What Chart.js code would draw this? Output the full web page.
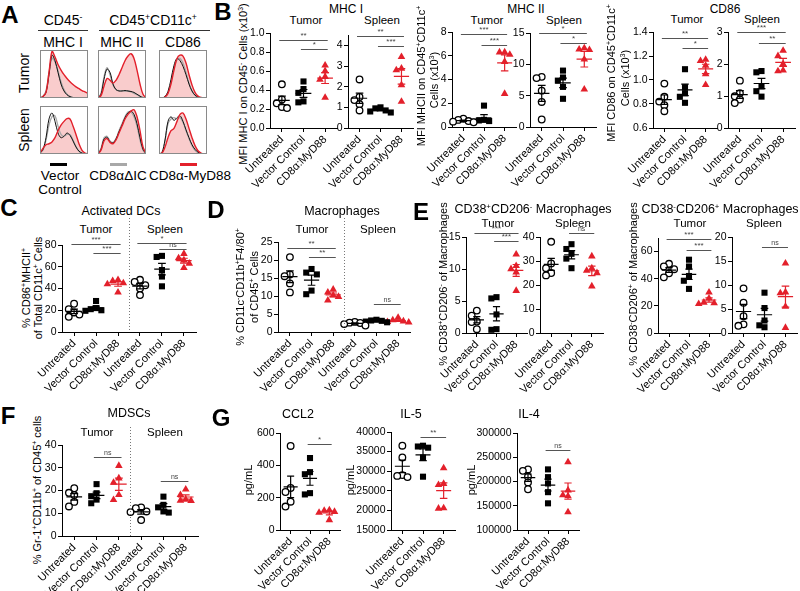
<!DOCTYPE html>
<html lang="en">
<head>
<meta charset="UTF-8">
<title>Myeloid cell activation</title>
<script src="https://cdn.jsdelivr.net/npm/chart.js"></script>
<style>
    body { margin: 0; background: #fff; font-family: 'Liberation Sans', Arial, Helvetica, sans-serif; }
    #fig { position: relative; width: 800px; height: 591px; overflow: hidden; background: #fff; }
    canvas { position: absolute; }
    .t { position: absolute; white-space: nowrap; font-size: 11px; color: #000; line-height: 1;
         transform: translate(-50%, -50%); }
    .rot { transform: translate(-50%, -50%) rotate(-90deg); }
    .bar { position: absolute; height: 3px; }
    .rule { position: absolute; height: 1px; background: #333; }
    sup { font-size: 0.62em; vertical-align: 0.55em; line-height: 0; }
</style>
</head>
<body>
<div id="fig"></div>

<script>
    // ---------- data ----------
    const groups = ['Untreated', 'Vector Control', 'CD8\u03b1:MyD88'];

    // A: histograms, rows = CD8a-MyD88 (red), vector control (black), CD8aDIC (grey)
    const histTumorMhcI = [
        [0, 0.03, 0.12, 0.55, 1.0, 0.88, 0.72, 0.6, 0.5, 0.42, 0.35, 0.29, 0.24, 0.2, 0.16, 0.13, 0.1],
        [0, 0.03, 0.12, 0.5, 0.92, 0.8, 0.55, 0.3, 0.15, 0.07, 0.03, 0.01, 0, 0, 0, 0, 0],
        [0, 0.04, 0.15, 0.55, 0.85, 0.78, 0.58, 0.35, 0.18, 0.08, 0.03, 0.01, 0, 0, 0, 0, 0]
    ];
    const histTumorMhcII = [
        [0, 0.05, 0.25, 0.42, 0.38, 0.32, 0.38, 0.5, 0.65, 0.8, 0.9, 0.95, 0.85, 0.6, 0.3, 0.08, 0],
        [0, 0.08, 0.4, 0.62, 0.55, 0.3, 0.18, 0.15, 0.15, 0.16, 0.15, 0.14, 0.12, 0.08, 0.04, 0.01, 0],
        [0, 0.1, 0.45, 0.65, 0.5, 0.28, 0.18, 0.16, 0.16, 0.15, 0.15, 0.13, 0.1, 0.07, 0.03, 0.01, 0]
    ];
    const histTumorCd86 = [
        [0, 0, 0.02, 0.1, 0.3, 0.6, 0.85, 0.92, 0.9, 0.75, 0.5, 0.28, 0.12, 0.04, 0.01, 0, 0],
        [0, 0, 0.03, 0.14, 0.4, 0.7, 0.85, 0.8, 0.68, 0.5, 0.3, 0.15, 0.06, 0.02, 0, 0, 0],
        [0, 0, 0.03, 0.12, 0.35, 0.65, 0.82, 0.85, 0.75, 0.55, 0.32, 0.15, 0.06, 0.02, 0, 0, 0]
    ];
    const histSpleenMhcI = [
        [0.02, 0.12, 0.2, 0.22, 0.26, 0.35, 0.5, 0.62, 0.7, 0.76, 0.75, 0.6, 0.42, 0.22, 0.08, 0.02, 0],
        [0.02, 0.1, 0.35, 0.75, 0.88, 0.7, 0.45, 0.35, 0.38, 0.45, 0.4, 0.28, 0.15, 0.06, 0.02, 0, 0],
        [0.02, 0.08, 0.3, 0.62, 0.8, 0.82, 0.6, 0.42, 0.38, 0.42, 0.42, 0.3, 0.16, 0.06, 0.02, 0, 0]
    ];
    const histSpleenMhcII = [
        [0, 0.08, 0.28, 0.33, 0.25, 0.22, 0.3, 0.45, 0.6, 0.75, 0.85, 0.92, 0.95, 0.8, 0.5, 0.15, 0.02],
        [0, 0.1, 0.32, 0.36, 0.26, 0.24, 0.32, 0.48, 0.62, 0.78, 0.88, 0.92, 0.85, 0.65, 0.35, 0.1, 0.01],
        [0, 0.12, 0.35, 0.38, 0.28, 0.25, 0.33, 0.5, 0.65, 0.8, 0.9, 0.9, 0.8, 0.6, 0.3, 0.08, 0.01]
    ];
    const histSpleenCd86 = [
        [0, 0.02, 0.15, 0.35, 0.5, 0.55, 0.7, 0.85, 0.88, 0.75, 0.55, 0.35, 0.18, 0.07, 0.02, 0, 0],
        [0, 0.03, 0.3, 0.7, 0.8, 0.72, 0.78, 0.82, 0.7, 0.52, 0.35, 0.2, 0.1, 0.04, 0.01, 0, 0],
        [0, 0.03, 0.28, 0.65, 0.75, 0.78, 0.75, 0.78, 0.68, 0.5, 0.33, 0.18, 0.08, 0.03, 0.01, 0, 0]
    ];

    // B: MFI (x10^3), one row per group
    const mhcITumor = [[0.46, 0.30, 0.26, 0.22, 0.21], [0.49, 0.41, 0.37, 0.28, 0.27], [0.66, 0.60, 0.54, 0.51, 0.32]];
    const mhcISpleen = [[2.35, 1.5, 1.35, 1.15, 0.85], [1.0, 0.95, 0.85, 0.8, 0.75], [3.44, 2.88, 2.8, 2.08, 1.28]];
    const mhcIITumor = [[0.7, 0.6, 0.5, 0.45, 0.4], [1.8, 0.6, 0.55, 0.5, 0.45], [6.3, 6.3, 6.1, 5.5, 2.8]];
    const mhcIISpleen = [[8.0, 7.8, 5.8, 4.0, 1.2], [9.0, 7.9, 7.4, 6.4, 4.5], [12.6, 12.4, 12.3, 10.8, 6.0]];
    const cd86Tumor = [[0.97, 0.86, 0.82, 0.79, 0.74], [1.09, 0.94, 0.89, 0.86, 0.81], [1.17, 1.16, 1.12, 1.05, 0.96]];
    const cd86Spleen = [[1.48, 1.09, 0.99, 0.89, 0.78], [1.78, 1.74, 1.3, 1.15, 0.98], [2.42, 2.25, 2.0, 1.8, 1.78]];

    // C-F: percentages
    const dcTumor = [[26, 21, 18, 16, 14], [28.5, 22, 21, 20, 19.5], [48, 47, 45, 44, 36.5]];
    const dcSpleen = [[48, 46, 43, 40, 34], [70, 69, 57, 51, 42], [72, 68, 66, 63, 59]];
    const macTumor = [[20.8, 16, 15.5, 13.5, 11], [17.5, 16.5, 16, 11.5, 10.5], [11.8, 11, 10.2, 9.8, 8.8]];
    const macSpleen = [[2.8, 2.6, 2.5, 2.2, 1.8], [3.4, 3.2, 3.1, 2.9, 2.7], [4.0, 3.3, 3.0, 2.8, 2.7]];
    const m1Tumor = [[3.5, 2.7, 1.8, 1.7, 0.6], [5.6, 5.4, 2.9, 0.6, 0.5], [12.3, 10.5, 10, 9.5, 6.6]];
    const m1Spleen = [[38, 29, 27, 25, 24], [37, 35, 33, 31, 27], [32, 27, 26, 25, 19.5]];
    const m2Tumor = [[51, 49, 47, 44, 41], [54, 49, 42, 38.5, 32.5], [30, 25.5, 22.5, 22, 21.5]];
    const m2Spleen = [[9.3, 6.3, 3.5, 1.8, 1.5], [8.4, 5.2, 2.6, 1.6, 1.2], [14.5, 8.5, 8.3, 5.5, 1.1]];
    const mdscTumor = [[21, 19, 18, 15, 13], [22.8, 18.8, 17.5, 16, 14.4], [30.9, 25.4, 23.5, 18.1, 15.9]];
    const mdscSpleen = [[12.6, 12.2, 10.8, 10.5, 7.0], [17.3, 13.7, 12.6, 10.8, 10.3], [20.5, 18.1, 16, 15.6, 15.5]];

    // G: cytokines, pg/mL
    const ccl2 = [[520, 260, 235, 175, 145], [445, 358, 345, 228, 220], [123, 120, 113, 108, 62]];
    const il5 = [[36500, 33500, 29000, 28800, 28500], [36500, 36300, 36000, 33500, 28600], [30800, 26800, 26500, 20600, 20500]];
    const il4 = [[225000, 222000, 210000, 198000, 184000], [225000, 209000, 196000, 178000, 155000], [240000, 182000, 172000, 170000, 137000]];

    // y tick labels
    const mhcITumorTicks = [0, 0.2, 0.4, 0.6, 0.8, 1.0];
    const mhcISpleenTicks = [0, 1, 2, 3, 4];
    const mhcIITumorTicks = [0, 2, 4, 6, 8];
    const mhcIISpleenTicks = [0, 5, 10, 15];
    const cd86TumorTicks = [0.6, 0.8, 1.0, 1.2, 1.4];
    const cd86SpleenTicks = [0, 1, 2, 3];
    const dcTicks = [0, 20, 40, 60, 80];
    const macTicks = [0, 5, 10, 15, 20, 25];
    const m1TumorTicks = [0, 5, 10, 15];
    const m1SpleenTicks = [0, 10, 20, 30, 40];
    const m2TumorTicks = [0, 10, 20, 30, 40, 50, 60, 70];
    const m2SpleenTicks = [0, 5, 10, 15, 20];
    const mdscTicks = [0, 10, 20, 30, 40];
    const ccl2Ticks = [0, 200, 400, 600];
    const il5Ticks = [15000, 20000, 25000, 30000, 35000, 40000];
    const il4Ticks = [100000, 150000, 200000, 250000, 300000];

    // ---------- drawing ----------
    const FONT = "'Liberation Sans', Arial, Helvetica, sans-serif";
    const RED = '#e3202b';
    Chart.defaults.font.family = FONT;
    Chart.defaults.color = '#000';
    const fig = document.getElementById('fig');

    function text(html, x, y, size, extra) {
        const d = document.createElement('div');
        d.className = 't' + (extra && extra.rot ? ' rot' : '');
        d.innerHTML = html;
        d.style.left = x + 'px';
        d.style.top = y + 'px';
        d.style.fontSize = size + 'px';
        if (extra && extra.bold) d.style.fontWeight = 'bold';
        fig.appendChild(d);
    }

    function block(cls, x, y, w, color) {
        const d = document.createElement('div');
        d.className = cls;
        d.style.left = x + 'px';
        d.style.top = y + 'px';
        d.style.width = w + 'px';
        if (color) d.style.background = color;
        fig.appendChild(d);
    }

    function makeCanvas(x, y, w, h) {
        const c = document.createElement('canvas');
        c.width = w; c.height = h;
        c.style.left = x + 'px'; c.style.top = y + 'px';
        c.style.width = w + 'px'; c.style.height = h + 'px';
        fig.appendChild(c);
        return c;
    }

    const mean = a => a.reduce((s, v) => s + v, 0) / a.length;
    const sem = a => {
        const m = mean(a);
        return Math.sqrt(a.reduce((s, v) => s + (v - m) * (v - m), 0) / (a.length - 1)) / Math.sqrt(a.length);
    };

    // simple beeswarm: spread points of one group sideways when they collide
    function spread(vals, ppu, s) {
        const order = vals.map((v, i) => i).sort((a, b) => vals[b] - vals[a]);
        const placed = [];
        const off = vals.map(() => 0);
        const d = 5.5;
        const cands = [0, -1, 1, -2, 2, -3, 3];
        order.forEach(i => {
            for (const c of cands) {
                const dx = c * d;
                const ok = placed.every(p => Math.abs(p.dx - dx) >= d || Math.abs(p.v - vals[i]) * ppu >= d);
                if (ok) { off[i] = dx / s; placed.push({ dx, v: vals[i] }); break; }
            }
        });
        return off;
    }

    function histo(x, y, rows) {
        const w = 48, h = 48;
        const cv = makeCanvas(x, y, w, h);
        const pts = r => r.map((v, i) => ({ x: i, y: v }));
        const frame = {
            id: 'frame',
            afterDraw(chart) {
                const ctx = chart.ctx;
                ctx.save();
                ctx.strokeStyle = '#8a8a8a';
                ctx.lineWidth = 1;
                ctx.strokeRect(0.5, 0.5, w - 1, h - 1);
                ctx.restore();
            }
        };
        new Chart(cv, {
            type: 'line',
            data: {
                datasets: [
                    { data: pts(rows[0]), borderColor: RED, borderWidth: 1.4, fill: false },
                    { data: pts(rows[1]), borderColor: '#111', borderWidth: 1, fill: false },
                    { data: pts(rows[2]), borderColor: '#a8a8a8', borderWidth: 1.3, fill: false },
                    { data: pts(rows[0]), borderColor: 'rgba(0,0,0,0)', borderWidth: 0,
                      backgroundColor: 'rgba(240,120,120,0.38)', fill: 'origin' }
                ]
            },
            options: {
                animation: false, responsive: false,
                elements: { point: { radius: 0 }, line: { tension: 0.35 } },
                layout: { padding: 0 },
                plugins: { legend: { display: false }, tooltip: { enabled: false } },
                scales: {
                    x: { type: 'linear', min: 0, max: 16, display: false },
                    y: { min: 0, max: 1.03, display: false }
                }
            },
            plugins: [frame]
        });
    }

    function dotPlot(p) {
        const n = p.data.length;
        const cats = n === 3 ? groups : groups.concat(groups);
        const padL = 46, padT = 34, padR = 8, padB = 80;
        const pw = p.x1 - p.x0, ph = p.yBot - p.yTop;
        const s = pw / (n - 0.1);
        const ppu = ph / (p.ymax - p.ymin);
        const cTop = p.yTop - padT;
        const cv = makeCanvas(p.x0 - padL, cTop, padL + pw + padR, padT + ph + padB);

        const styles = ['circle', 'rect', 'triangle'];
        const radii = [3.3, 4.3, 4.4];
        const fills = ['#fff', '#000', RED];
        const lines = ['#000', '#000', RED];
        const datasets = p.data.map((vals, g) => {
            const off = spread(vals, ppu, s);
            const k = g % 3;
            return {
                data: vals.map((v, i) => ({ x: g + off[i], y: v })),
                pointStyle: styles[k],
                pointRadius: radii[k],
                pointBackgroundColor: fills[k],
                pointBorderColor: lines[k],
                pointBorderWidth: k === 0 ? 1.3 : 0,
                clip: false
            };
        });

        const marks = {
            id: 'marks',
            afterDatasetsDraw(chart) {
                const { ctx, scales: { x, y }, chartArea } = chart;
                ctx.save();
                ctx.lineWidth = 1.2;
                p.data.forEach((vals, g) => {
                    const m = mean(vals), e = sem(vals);
                    const cx = x.getPixelForValue(g);
                    const ym = y.getPixelForValue(m), y1 = y.getPixelForValue(m + e), y2 = y.getPixelForValue(m - e);
                    const hw = s * 0.34, cw = s * 0.17;
                    ctx.strokeStyle = g % 3 === 2 ? RED : '#000';
                    ctx.beginPath();
                    ctx.moveTo(cx - hw, ym); ctx.lineTo(cx + hw, ym);
                    ctx.moveTo(cx, y1); ctx.lineTo(cx, y2);
                    ctx.moveTo(cx - cw, y1); ctx.lineTo(cx + cw, y1);
                    ctx.moveTo(cx - cw, y2); ctx.lineTo(cx + cw, y2);
                    ctx.stroke();
                });
                ctx.lineWidth = 1;
                ctx.strokeStyle = '#555';
                ctx.fillStyle = '#444';
                ctx.textAlign = 'center';
                ctx.textBaseline = 'bottom';
                (p.sig || []).forEach(([a, b, v, label]) => {
                    const xa = x.getPixelForValue(a - 0.12), xb = x.getPixelForValue(b + 0.12);
                    const yy = Math.round(y.getPixelForValue(v)) + 0.5;
                    ctx.beginPath();
                    ctx.moveTo(xa, yy); ctx.lineTo(xb, yy);
                    ctx.stroke();
                    ctx.font = (label === 'ns' ? '7px ' : '8px ') + FONT;
                    ctx.fillText(label, (xa + xb) / 2, yy - 0.5);
                });
                if (p.divTop != null) {
                    const dx = Math.round(x.getPixelForValue(2.5)) + 0.5;
                    ctx.strokeStyle = '#777';
                    ctx.setLineDash([1, 2]);
                    ctx.beginPath();
                    ctx.moveTo(dx, p.divTop - cTop);
                    ctx.lineTo(dx, chartArea.bottom);
                    ctx.stroke();
                }
                ctx.restore();
            }
        };

        const axisGrid = { display: true, drawOnChartArea: false, drawTicks: true, tickLength: 4, color: '#000', lineWidth: 1 };
        new Chart(cv, {
            type: 'scatter',
            data: { datasets },
            options: {
                animation: false, responsive: false,
                layout: { padding: { top: padT, right: padR, left: 0, bottom: 0 } },
                plugins: { legend: { display: false }, tooltip: { enabled: false } },
                scales: {
                    x: {
                        type: 'linear', min: -0.55, max: n - 0.45,
                        afterBuildTicks: sc => { sc.ticks = cats.map((c, i) => ({ value: i })); },
                        afterFit: sc => { sc.height = padB; },
                        ticks: { callback: v => cats[v], minRotation: 45, maxRotation: 45, autoSkip: false,
                                 font: { size: 11 }, color: '#000', padding: 1 },
                        grid: axisGrid,
                        border: { display: true, color: '#000', width: 1 }
                    },
                    y: {
                        min: p.ymin, max: p.ymax,
                        afterBuildTicks: sc => { sc.ticks = p.ticks.map(v => ({ value: v })); },
                        afterFit: sc => { sc.width = padL; },
                        ticks: { callback: v => v.toFixed(p.dec || 0), font: { size: 10.5 }, color: '#000', padding: 1.5 },
                        grid: axisGrid,
                        border: { display: true, color: '#000', width: 1 }
                    }
                }
            },
            plugins: [marks]
        });
    }

    // ---------- panel A ----------
    text('A', 10, 15, 24, { bold: true });
    text('CD45<sup>-</sup>', 63, 20, 14);
    text('CD45<sup>+</sup>CD11c<sup>+</sup>', 153, 20, 14);
    block('rule', 38, 30, 50);
    block('rule', 99, 30, 111);
    text('MHC I', 63, 42, 14);
    text('MHC II', 122, 42, 14);
    text('CD86', 183, 42, 14);
    text('Tumor', 24, 73, 14, { rot: true });
    text('Spleen', 24, 130, 14, { rot: true });
    histo(40, 50, histTumorMhcI);
    histo(98, 50, histTumorMhcII);
    histo(159, 50, histTumorCd86);
    histo(40, 106, histSpleenMhcI);
    histo(98, 106, histSpleenMhcII);
    histo(159, 106, histSpleenCd86);
    block('bar', 50, 163, 17, '#000');
    block('bar', 110, 163, 17, '#a8a8a8');
    block('bar', 180, 163, 17, RED);
    text('Vector', 60, 176, 13.5);
    text('Control', 60, 190, 13.5);
    text('CD8\u03b1\u0394IC', 118, 176, 13.5);
    text('CD8\u03b1-MyD88', 190, 176, 13.5);

    // ---------- panel B ----------
    text('B', 223, 12, 24, { bold: true });
    text('MHC I', 346, 9, 12);
    text('Tumor', 306, 21, 11.5);
    text('Spleen', 382, 21, 11.5);
    text('MFI MHC I on CD45<sup>-</sup> Cells (x10<sup>3</sup>)', 243, 84, 11, { rot: true });
    dotPlot({ data: mhcITumor, ticks: mhcITumorTicks, dec: 1, ymin: 0, ymax: 1.0, x0: 270, x1: 337, yTop: 33, yBot: 128,
              sig: [[0, 2, 0.93, '**'], [1, 2, 0.83, '*']] });
    dotPlot({ data: mhcISpleen, ticks: mhcISpleenTicks, ymin: 0, ymax: 4.5, x0: 348, x1: 413, yTop: 34.6, yBot: 128,
              sig: [[0, 2, 4.43, '**'], [1, 2, 3.95, '***']] });

    text('MHC II', 526, 9, 12);
    text('Tumor', 487, 21, 11.5);
    text('Spleen', 564, 21, 11.5);
    text('MFI MHCII on CD45<sup>+</sup>CD11c<sup>+</sup>', 421, 76, 11, { rot: true });
    text('Cells (x10<sup>3</sup>)', 434, 80, 11, { rot: true });
    dotPlot({ data: mhcIITumor, ticks: mhcIITumorTicks, ymin: 0, ymax: 8, x0: 452, x1: 516, yTop: 32, yBot: 127,
              sig: [[0, 2, 7.83, '***'], [1, 2, 6.9, '***']] });
    dotPlot({ data: mhcIISpleen, ticks: mhcIISpleenTicks, ymin: 0, ymax: 15, x0: 530, x1: 596, yTop: 33, yBot: 127,
              sig: [[0, 2, 15, '*'], [1, 2, 13.4, '*']] });

    text('CD86', 725, 9, 12);
    text('Tumor', 687, 20, 11.5);
    text('Spleen', 762, 20, 11.5);
    text('MFI CD86 on CD45<sup>+</sup>CD11c<sup>+</sup>', 611, 73, 11, { rot: true });
    text('Cells (x10<sup>3</sup>)', 625, 78, 11, { rot: true });
    dotPlot({ data: cd86Tumor, ticks: cd86TumorTicks, dec: 1, ymin: 0.6, ymax: 1.4, x0: 653, x1: 717, yTop: 32, yBot: 128,
              sig: [[0, 2, 1.35, '**'], [1, 2, 1.27, '*']] });
    dotPlot({ data: cd86Spleen, ticks: cd86SpleenTicks, ymin: 0, ymax: 3, x0: 728, x1: 795, yTop: 32, yBot: 128,
              sig: [[0, 2, 3.0, '***'], [1, 2, 2.66, '**']] });

    // ---------- panel C ----------
    text('C', 9, 208, 24, { bold: true });
    text('Activated DCs', 121, 211, 12.5);
    text('Tumor', 96, 230, 11.5);
    text('Spleen', 165, 230, 11.5);
    text('% CD86<sup>+</sup>MHCII<sup>+</sup>', 26, 288, 11, { rot: true });
    text('of Total CD11c<sup>+</sup> Cells', 38, 288, 11, { rot: true });
    dotPlot({ data: dcTumor.concat(dcSpleen), ticks: dcTicks, ymin: 0, ymax: 80, x0: 62, x1: 196, yTop: 245, yBot: 332,
              sig: [[0, 2, 81, '***'], [1, 2, 72.5, '***'], [3, 5, 82, '*'], [4, 5, 76, 'ns']], divTop: 218 });

    // ---------- panel D ----------
    text('D', 216, 210, 24, { bold: true });
    text('Macrophages', 342, 211, 12.5);
    text('Tumor', 312, 230, 11.5);
    text('Spleen', 378, 230, 11.5);
    text('% CD11c<sup>-</sup>CD11b<sup>+</sup>F4/80<sup>+</sup>', 240, 287, 11, { rot: true });
    text('of CD45<sup>+</sup> Cells', 254, 287, 11, { rot: true });
    dotPlot({ data: macTumor.concat(macSpleen), ticks: macTicks, ymin: 0, ymax: 25, x0: 278, x1: 410, yTop: 242, yBot: 332,
              sig: [[0, 2, 23.3, '**'], [1, 2, 20.8, '**'], [4, 5, 7.8, 'ns']], divTop: 218 });

    // ---------- panel E ----------
    text('E', 421, 212, 24, { bold: true });
    text('CD38<sup>+</sup>CD206<sup>-</sup> Macrophages', 533, 209, 12.5);
    text('Tumor', 498, 224, 11.5);
    text('Spleen', 573, 224, 11.5);
    text('% CD38<sup>+</sup>CD206<sup>-</sup> of Macrophages', 443, 284, 11, { rot: true });
    dotPlot({ data: m1Tumor, ticks: m1TumorTicks, ymin: 0, ymax: 15, x0: 466, x1: 527, yTop: 237, yBot: 333,
              sig: [[0, 2, 15.6, '***'], [1, 2, 14.4, '***']] });
    dotPlot({ data: m1Spleen, ticks: m1SpleenTicks, ymin: 0, ymax: 40, x0: 540, x1: 603, yTop: 237, yBot: 333,
              sig: [[1, 2, 41.6, 'ns']] });

    text('CD38<sup>-</sup>CD206<sup>+</sup> Macrophages', 720, 209, 12.5);
    text('Tumor', 690, 224, 11.5);
    text('Spleen', 764, 224, 11.5);
    text('% CD38<sup>-</sup>CD206<sup>+</sup> of Macrophages', 633, 284, 11, { rot: true });
    dotPlot({ data: m2Tumor, ticks: m2TumorTicks, ymin: 0, ymax: 70, x0: 658, x1: 720, yTop: 238, yBot: 333,
              sig: [[0, 2, 69.6, '***'], [1, 2, 61.5, '***']] });
    dotPlot({ data: m2Spleen, ticks: m2SpleenTicks, ymin: 0, ymax: 20, x0: 732, x1: 797, yTop: 237, yBot: 333,
              sig: [[1, 2, 17.9, 'ns']] });

    // ---------- panel F ----------
    text('F', 8, 416, 24, { bold: true });
    text('MDSCs', 129, 413, 12.5);
    text('Tumor', 97, 433, 11.5);
    text('Spleen', 165, 433, 11.5);
    text('% Gr-1<sup>+</sup>CD11b<sup>+</sup> of CD45<sup>+</sup> cells', 37, 490, 11, { rot: true });
    dotPlot({ data: mdscTumor.concat(mdscSpleen), ticks: mdscTicks, ymin: 0, ymax: 40, x0: 62, x1: 198, yTop: 445, yBot: 536,
              sig: [[1, 2, 34.8, 'ns'], [4, 5, 24.2, 'ns']], divTop: 427 });

    // ---------- panel G ----------
    text('G', 221, 418, 24, { bold: true });
    text('CCL2', 298, 414, 12.5);
    text('pg/mL', 248, 480, 11, { rot: true });
    dotPlot({ data: ccl2, ticks: ccl2Ticks, ymin: 0, ymax: 600, x0: 280, x1: 340, yTop: 432.5, yBot: 530,
              sig: [[1, 2, 529, '*']] });
    text('IL-5', 411, 414, 12.5);
    text('pg/mL', 350, 480, 11, { rot: true });
    dotPlot({ data: il5, ticks: il5Ticks, ymin: 15000, ymax: 40000, x0: 391, x1: 455, yTop: 432, yBot: 530,
              sig: [[1, 2, 38600, '**']] });
    text('IL-4', 529, 414, 12.5);
    text('pg/mL', 471, 480, 11, { rot: true });
    dotPlot({ data: il4, ticks: il4Ticks, ymin: 100000, ymax: 300000, x0: 517, x1: 579, yTop: 433, yBot: 530,
              sig: [[1, 2, 264600, 'ns']] });
</script>
</body>
</html>
